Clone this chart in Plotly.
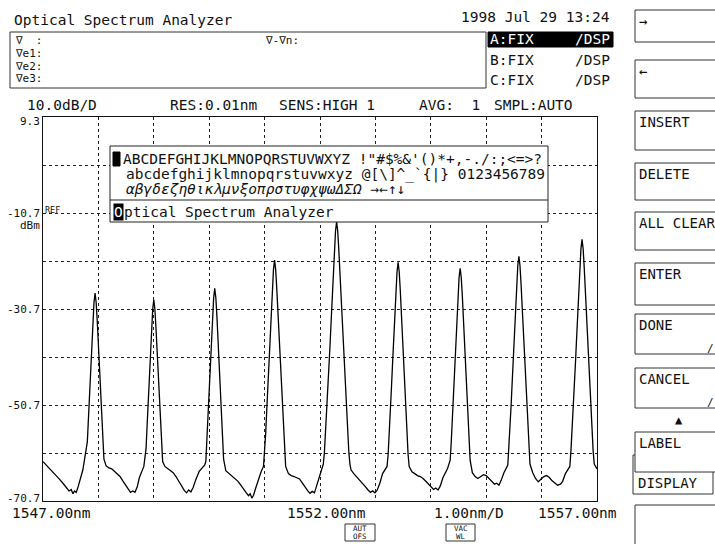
import plotly.graph_objects as go

# ---------------- data ----------------
trace_wavelength_nm = [
    1547.00, 1547.06, 1547.12, 1547.18, 1547.24, 1547.30, 1547.36, 1547.42, 1547.47, 1547.51,
    1547.54, 1547.57, 1547.60, 1547.64, 1547.68, 1547.72,
    1547.80, 1547.82, 1547.84, 1547.86, 1547.88, 1547.90, 1547.92, 1547.94, 1547.96, 1547.98,
    1548.00, 1548.02, 1548.04, 1548.06, 1548.08, 1548.10,
    1548.14, 1548.19, 1548.24, 1548.29, 1548.34, 1548.39, 1548.44, 1548.49, 1548.54, 1548.58,
    1548.62, 1548.66, 1548.70, 1548.74,
    1548.82, 1548.86, 1548.88, 1548.90, 1548.92, 1548.94, 1548.96, 1548.98, 1549.00, 1549.02,
    1549.04, 1549.06, 1549.08, 1549.10, 1549.12, 1549.14, 1549.16,
    1549.20, 1549.25, 1549.30, 1549.35, 1549.40, 1549.45, 1549.50, 1549.55, 1549.59, 1549.63,
    1549.67, 1549.71, 1549.76, 1549.82,
    1549.92, 1549.94, 1549.96, 1549.98, 1550.00, 1550.02, 1550.04, 1550.06, 1550.08, 1550.10,
    1550.12, 1550.14, 1550.16, 1550.18, 1550.20, 1550.22, 1550.24, 1550.26,
    1550.30, 1550.36, 1550.42, 1550.47, 1550.52, 1550.57, 1550.62, 1550.67, 1550.71, 1550.74,
    1550.77, 1550.80, 1550.84, 1550.89, 1550.94,
    1550.98, 1551.00, 1551.02, 1551.04, 1551.06, 1551.08, 1551.10, 1551.12, 1551.14, 1551.16,
    1551.18, 1551.20, 1551.22, 1551.24, 1551.26, 1551.28, 1551.30, 1551.32, 1551.34, 1551.36,
    1551.38,
    1551.43, 1551.48, 1551.53, 1551.58, 1551.63, 1551.68, 1551.73, 1551.78, 1551.82, 1551.86,
    1551.90, 1551.94, 1551.99, 1552.03,
    1552.06, 1552.08, 1552.10, 1552.12, 1552.14, 1552.16, 1552.18, 1552.20, 1552.22, 1552.24,
    1552.26, 1552.28, 1552.30, 1552.32, 1552.34, 1552.36, 1552.38, 1552.40, 1552.42, 1552.44,
    1552.46, 1552.48, 1552.50, 1552.52, 1552.54,
    1552.56, 1552.61, 1552.66, 1552.71, 1552.76, 1552.81, 1552.86, 1552.91, 1552.95, 1552.99,
    1553.03, 1553.08, 1553.13,
    1553.21, 1553.23, 1553.25, 1553.27, 1553.29, 1553.31, 1553.33, 1553.35, 1553.37, 1553.39,
    1553.41, 1553.43, 1553.45, 1553.47, 1553.49, 1553.51, 1553.53, 1553.55, 1553.57, 1553.59,
    1553.61,
    1553.66, 1553.71, 1553.76, 1553.81, 1553.86, 1553.91, 1553.96, 1554.01, 1554.05, 1554.09,
    1554.13, 1554.17, 1554.22, 1554.30,
    1554.35, 1554.37, 1554.39, 1554.41, 1554.43, 1554.45, 1554.47, 1554.49, 1554.51, 1554.53,
    1554.55, 1554.57, 1554.59, 1554.61, 1554.63, 1554.65, 1554.67, 1554.69, 1554.71,
    1554.75, 1554.80, 1554.85, 1554.90, 1554.95, 1555.00, 1555.05, 1555.10, 1555.15, 1555.19,
    1555.23, 1555.27, 1555.32,
    1555.39, 1555.41, 1555.43, 1555.45, 1555.47, 1555.49, 1555.51, 1555.53, 1555.55, 1555.57,
    1555.59, 1555.61, 1555.63, 1555.65, 1555.67, 1555.69, 1555.71, 1555.73, 1555.75, 1555.77,
    1555.79,
    1555.84, 1555.89, 1555.94, 1555.99, 1556.04, 1556.09, 1556.14, 1556.19, 1556.24, 1556.29,
    1556.34, 1556.38, 1556.43,
    1556.51, 1556.53, 1556.55, 1556.57, 1556.59, 1556.61, 1556.63, 1556.65, 1556.67, 1556.69,
    1556.71, 1556.73, 1556.75, 1556.77, 1556.79, 1556.81, 1556.83, 1556.85, 1556.87, 1556.89,
    1556.91, 1556.93, 1556.95, 1557.00,
]
trace_power_dbm = [
    -62.5, -63.2, -64.0, -64.6, -65.3, -66.2, -67.0, -67.9, -68.6, -68.3,
    -69.2, -68.6, -68.9, -67.5, -66.0, -64.2,
    -58.4, -53.4, -48.4, -43.4, -38.4, -33.4, -29.4, -27.4, -29.4, -33.4,
    -38.4, -43.4, -48.4, -53.4, -58.4, -62.0,
    -63.4, -63.8, -64.0, -64.5, -65.0, -65.6, -66.5, -67.4, -68.3, -68.9,
    -68.6, -68.9, -67.8, -65.8,
    -63.5, -59.8, -54.8, -49.8, -44.8, -39.8, -34.8, -30.8, -28.8, -30.8,
    -34.8, -39.8, -44.8, -49.8, -54.8, -59.8, -62.5,
    -63.5, -63.9, -64.3, -64.8, -65.6, -66.6, -67.6, -68.5, -69.0, -68.4,
    -68.8, -67.9, -66.2, -64.5,
    -63.2, -62.4, -57.4, -52.4, -47.4, -42.4, -37.4, -32.4, -28.4, -26.4,
    -28.4, -32.4, -37.4, -42.4, -47.4, -52.4, -57.4, -62.0,
    -64.4, -65.0, -65.5, -66.0, -66.6, -67.4, -68.3, -69.0, -69.6, -69.2,
    -70.1, -69.5, -68.0, -66.0, -64.5,
    -63.5, -60.5, -56.5, -51.5, -46.5, -41.5, -36.5, -31.5, -26.5, -22.5,
    -20.5, -22.5, -26.5, -31.5, -36.5, -41.5, -46.5, -51.5, -56.5, -60.5,
    -63.5,
    -65.0, -65.4, -65.6, -65.8, -66.1, -66.9, -67.8, -68.6, -69.1, -68.7,
    -69.0, -67.6, -65.6, -64.0,
    -63.0, -60.5, -56.5, -52.5, -48.5, -43.5, -38.5, -33.5, -28.5, -23.5,
    -18.5, -14.5, -12.5, -14.5, -18.5, -23.5, -28.5, -33.5, -38.5, -43.5,
    -48.5, -52.5, -56.5, -60.5, -63.0,
    -64.2, -65.0, -65.6, -66.3, -67.0, -67.6, -68.3, -68.9, -68.6, -69.0,
    -68.5, -67.0, -65.0,
    -63.5, -61.0, -57.0, -52.0, -47.0, -42.0, -37.0, -32.0, -27.0, -23.0,
    -21.0, -23.0, -27.0, -32.0, -37.0, -42.0, -47.0, -52.0, -57.0, -61.0,
    -63.5,
    -64.6, -65.0, -65.4, -65.6, -66.0, -66.6, -67.2, -67.8, -68.3, -68.0,
    -68.4, -67.6, -65.8, -64.0,
    -62.2, -58.2, -53.2, -48.2, -43.2, -38.2, -33.2, -28.2, -24.2, -22.2,
    -24.2, -28.2, -33.2, -38.2, -43.2, -48.2, -53.2, -58.2, -62.2,
    -64.8, -65.6, -66.0, -65.6, -65.2, -65.4, -66.0, -66.6, -67.2, -67.0,
    -67.4, -66.4, -64.8,
    -63.2, -59.7, -55.7, -50.7, -45.7, -40.7, -35.7, -30.7, -25.7, -21.7,
    -19.7, -21.7, -25.7, -30.7, -35.7, -40.7, -45.7, -50.7, -55.7, -59.7,
    -63.0,
    -64.8, -66.0, -66.7, -66.2, -65.6, -65.4, -65.8, -66.5, -67.0, -67.4,
    -67.2, -66.6, -65.0,
    -63.5, -60.2, -56.2, -52.2, -47.2, -42.2, -37.2, -32.2, -27.2, -22.2,
    -18.2, -16.2, -18.2, -22.2, -27.2, -32.2, -37.2, -42.2, -47.2, -52.2,
    -56.2, -60.2, -63.0, -64.0,
]

x_start_nm, x_stop_nm, x_div_nm = 1547.0, 1557.0, 1.0
y_top_dbm, y_bottom_dbm, y_div_db = 9.3, -70.7, 10.0
y_label_values = [9.3, -10.7, -30.7, -50.7, -70.7]
y_label_texts = ["9.3", "-10.7", "-30.7", "-50.7", "-70.7"]
x_label_values = [1547.0, 1552.0, 1557.0]
x_label_texts = ["1547.00nm", "1552.00nm", "1557.00nm"]

header_items = ["10.0dB/D", "RES:0.01nm", "SENS:HIGH 1", "AVG:  1", "SMPL:AUTO"]
trace_modes = ["A:FIX", "B:FIX", "C:FIX"]
marker_rows = ["\u2207  :", "\u2207e1:", "\u2207e2:", "\u2207e3:"]
softkeys = ["\u2192", "\u2190", "INSERT", "DELETE", "ALL CLEAR", "ENTER", "DONE", "CANCEL", "LABEL", ""]
char_rows = [
    "ABCDEFGHIJKLMNOPQRSTUVWXYZ !\"#$%&amp;'()*+,-./:;&lt;=&gt;?",
    "abcdefghijklmnopqrstuvwxyz @[\\]^_`{|} 0123456789",
    "<i>\u03b1\u03b2\u03b3\u03b4\u03b5\u03b6\u03b7\u03b8\u03b9\u03ba\u03bb\u03bc\u03bd\u03be\u03bf\u03c0\u03c1\u03c3\u03c4\u03c5\u03c6\u03c7\u03c8\u03c9\u0394\u03a3\u03a9</i> \u2192\u2190\u2191\u2193",
]
label_text = "Optical Spectrum Analyzer"

# ---------------- layout helpers ----------------
W, H = 715, 544
L, R, T, B = 43, 597, 117, 501
FONT = "DejaVu Sans Mono"
INK = "#111111"


def px(x):
    return (x - L) / (R - L)


def py(y):
    return (B - y) / (B - T)


annotations = []
shapes = []


def text(x, y, s, size=14.5, anchor="left", color=INK, **kw):
    annotations.append(dict(xref="paper", yref="paper", x=px(x), y=py(y), text=s,
                            showarrow=False, xanchor=anchor, yanchor="middle",
                            font=dict(family=FONT, size=size, color=color), **kw))


def rect(x0, y0, x1, y1, line=INK, fill="rgba(0,0,0,0)", width=1, layer="above"):
    shapes.append(dict(type="rect", xref="paper", yref="paper", x0=px(x0), x1=px(x1),
                       y0=py(y0), y1=py(y1), line=dict(color=line, width=width),
                       fillcolor=fill, layer=layer))


def hline(x0, x1, y, color=INK):
    shapes.append(dict(type="line", xref="paper", yref="paper", x0=px(x0), x1=px(x1),
                       y0=py(y), y1=py(y), line=dict(color=color, width=1), layer="above"))


fig = go.Figure()
fig.add_trace(go.Scatter(x=trace_wavelength_nm, y=trace_power_dbm, mode="lines",
                         line=dict(color="#000000", width=1.3), hoverinfo="skip",
                         showlegend=False))

# ---- top area ----
text(12, 20, label_text)
text(612, 17, "1998 Jul 29 13:24", anchor="right")
rect(10, 32, 486, 88, line="#333333")
for i, row in enumerate(marker_rows):
    text(13, 41 + i * 12.5, row, size=11)
text(263, 41, "\u2207-\u2207n:", size=11)
rect(488, 32, 613, 47, line="#000000", fill="#000000")
for i, m in enumerate(trace_modes):
    yy = [39.5, 60, 80][i]
    col = "#ffffff" if i == 0 else INK
    text(488, yy, m, color=col)
    text(612, yy, "/DSP", color=col, anchor="right")

header_x = [25, 168, 277, 417, 492]
for hx, s in zip(header_x, header_items):
    text(hx, 105, s.replace("  ", "\u00a0\u00a0"))

# ---- y labels ----
y_shifts = [-4, 0, 0, 0, 3]
for v, s, sh in zip(y_label_values, y_label_texts, y_shifts):
    annotations.append(dict(xref="paper", yref="y", x=px(42), y=v, text=s, showarrow=False,
                            xanchor="right", yanchor="middle", yshift=sh,
                            font=dict(family=FONT, size=11, color=INK)))
text(43, 210, "REF", size=8.5)
text(42, 225, "dBm", size=11, anchor="right")

# ---- x labels ----
x_shifts = [8, 6, -20]
for v, s, sh in zip(x_label_values, x_label_texts, x_shifts):
    annotations.append(dict(xref="x", yref="paper", x=v, y=py(513), text=s, showarrow=False,
                            xanchor="center", yanchor="middle", xshift=sh,
                            font=dict(family=FONT, size=14.5, color=INK)))
text(432, 513, "1.00nm/D")
rect(345, 524, 375, 541, line="#333333")
text(360, 528.5, "AUT", size=7.5, anchor="center")
text(360, 536, "OFS", size=7.5, anchor="center")
rect(446, 524, 475, 541, line="#333333")
text(460.5, 528.5, "VAC", size=7.5, anchor="center")
text(460.5, 536, "WL", size=7.5, anchor="center")

# ---- label editing dialog ----
rect(110, 146, 548, 222, line="#222222", fill="#ffffff")
hline(110, 548, 200, color="#222222")
rect(113, 152, 120, 166, line="#000000", fill="#000000")
text(121, 159, char_rows[0])
text(124, 174, char_rows[1])
text(124, 189, char_rows[2])
annotations.append(dict(xref="paper", yref="paper", x=px(113), y=py(212), text="O",
                        showarrow=False, xanchor="left", yanchor="middle", bgcolor="#000000",
                        borderpad=0, font=dict(family=FONT, size=14.5, color="#ffffff")))
text(122, 212, label_text[1:])

# ---- softkey panel ----
key_boxes = [(10, 42), (60, 98), (111, 150), (163, 200), (212, 250), (263, 305),
             (314, 354), (368, 408), (432, 472), (505, 548)]
rect(633, 455, 713, 494, line="#333333", fill="#ffffff")
text(636, 483, "DISPLAY", size=14)
for (y0, y1), k in zip(key_boxes, softkeys):
    rect(635, y0, 745, y1, line="#333333", fill="#ffffff")
    if k:
        text(637, y0 + 11, k, size=14)
text(705, 348, "/", size=11)
text(705, 402, "/", size=11)
text(679, 420, "\u25b2", size=12, anchor="center")

fig.update_layout(
    width=W, height=H,
    margin=dict(l=L, r=W - R, t=T, b=H - B, pad=0),
    paper_bgcolor="#ffffff", plot_bgcolor="#ffffff",
    showlegend=False,
    xaxis=dict(range=[x_start_nm, x_stop_nm], tick0=x_start_nm, dtick=x_div_nm,
               showticklabels=False, ticks="", showgrid=True, gridcolor="#222222",
               griddash="dot", gridwidth=1, zeroline=False, showline=True, mirror=True,
               linecolor="#111111", linewidth=1, fixedrange=True),
    yaxis=dict(range=[y_bottom_dbm, y_top_dbm], tick0=y_bottom_dbm, dtick=y_div_db,
               showticklabels=False, ticks="", showgrid=True, gridcolor="#222222",
               griddash="dot", gridwidth=1, zeroline=False, showline=True, mirror=True,
               linecolor="#111111", linewidth=1, fixedrange=True),
    annotations=annotations,
    shapes=shapes,
)

fig.write_html("out.html", config={"displayModeBar": False},
               post_script="document.body.style.margin='0';document.body.style.overflow='hidden';")
